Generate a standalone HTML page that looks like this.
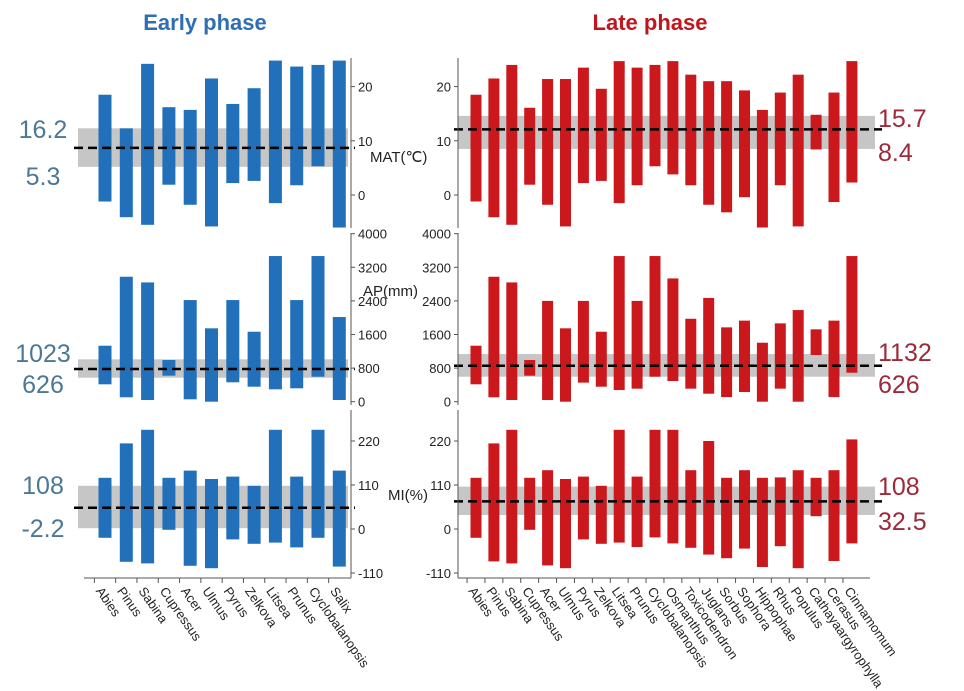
<!DOCTYPE html>
<html><head><meta charset="utf-8"><style>
body{margin:0;background:#fff}
svg{display:block;font-family:"Liberation Sans",Arial,sans-serif}
</style></head><body>
<svg id="chart" width="964" height="691" viewBox="0 0 964 691">
<text x="205" y="30" text-anchor="middle" font-size="22" font-weight="bold" fill="#2f6db5">Early phase</text>
<text x="650" y="30" text-anchor="middle" font-size="22" font-weight="bold" fill="#c0161c">Late phase</text>
<g id="g"></g>
</svg>
<script>
const earlyTaxa=["Abies","Pinus","Sabina","Cupressus","Acer","Ulmus","Pyrus","Zelkova","Litsea","Prunus","Cyclobalanopsis","Salix"];
const lateTaxa=["Abies","Pinus","Sabina","Cupressus","Acer","Ulmus","Pyrus","Zelkova","Litsea","Prunus","Cyclobalanopsis","Osmanthus","Toxicodendron","Juglans","Sorbus","Sophora","Hippophae","Rhus","Populus","Cathayaargyrophylla","Cerasus","Cinnamomum"];
const earlyMatHi=[18.5,12.3,24.2,16.2,15.7,21.5,16.8,19.7,24.8,23.7,24.0,24.8];
const earlyMatLo=[-1.2,-4.1,-5.5,1.9,-1.8,-5.8,2.2,2.6,-1.5,1.8,5.3,-6];
const earlyApHi=[1333,2975,2840,993,2420,1747,2420,1666,3468,2420,3468,2016];
const earlyApLo=[414,105,40,620,57,0,462,357,295,319,595,40];
const earlyMiHi=[128,214,248,128,146,125,131,108,248,131,248,146];
const earlyMiLo=[-22,-82,-86,-2,-92,-98,-26,-37,-34,-46,-22,-94];
const lateMatHi=[18.5,21.5,24,16.1,21.4,21.4,23.5,19.6,24.7,23.5,24,24.7,22.2,21,21,19.3,15.7,18.9,22.2,14.8,18.9,24.7];
const lateMatLo=[-1.2,-4.1,-5.5,1.9,-1.8,-5.8,2.2,2.6,-1.5,1.8,5.3,3.8,1.8,-1.8,-3.2,-0.4,-6,1.8,-5.8,8.4,-1.3,2.3];
const lateApHi=[1333,2975,2840,993,2400,1747,2400,1666,3468,2400,3468,2935,1975,2470,1770,1930,1404,1865,2182,1723,1930,3468];
const lateApLo=[414,105,40,620,40,0,454,357,278,310,595,492,310,190,110,230,0,310,0,1111,110,690];
const lateMiHi=[128,214,248,128,147,125,131,108,248,131,248,248,147,220,128,147,128,129,147,128,147,224];
const lateMiLo=[-22,-81,-86,-2,-91,-98,-26,-37,-34,-45,-21,-36,-47,-64,-73,-49,-95,-43,-98,32,-80,-36];
const earlyBands=[[5.2,8.7,12.3],[571,778,1009],[2,53,108]];
const lateBands=[[8.5,12.1,14.6],[595,857,1135],[35,69,106]];
const earlyLabels=[["16.2","5.3"],["1023","626"],["108","-2.2"]];
const lateLabels=[["15.7","8.4"],["1132","626"],["108","32.5"]];
const matTicks=[0,10,20], apTicks=[0,800,1600,2400,3200,4000], miTicks=[-110,0,110,220];

const NS="http://www.w3.org/2000/svg";
const G=document.getElementById('g');
function el(t,a,txt){const e=document.createElementNS(NS,t);for(const k in a)e.setAttribute(k,a[k]);if(txt!==undefined)e.textContent=txt;G.appendChild(e);return e;}
const yMat=v=>195-v*5.42, yAp=v=>401.7-v*0.042, yMi=v=>529-v*0.4;
const scales=[yMat,yAp,yMi];
const ticks=[matTicks,apTicks,miTicks];
const ranges=[[58,228],[233,405],[410,578]];

function panel(cfg){
  const {taxa,his,los,bands,labels,x0,step,bw,color,axisX,right,bandX0,bandX1,lblX,lblY,lblAnchor,lblColor,name}=cfg;
  const xs=i=>x0+i*step;
  for(let p=0;p<3;p++){
    const y=scales[p];const b=bands[p];
    let e=el('rect',{x:bandX0,y:y(b[2]),width:bandX1-bandX0,height:y(b[0])-y(b[2]),fill:'#c6c6c6'});
    
    
    for(let i=0;i<taxa.length;i++){
      const hi=his[p][i],lo=los[p][i];
      e=el('rect',{x:xs(i)-bw/2,y:y(hi),width:bw,height:y(lo)-y(hi),fill:color});
      
      
    }
    e=el('line',{x1:bandX0-4,x2:bandX1+7,y1:y(b[1]),y2:y(b[1]),stroke:'#000','stroke-width':2.5,'stroke-dasharray':'9,5'});
    
    
    const r=ranges[p];
    e=el('line',{x1:axisX,x2:axisX,y1:r[0],y2:r[1],stroke:'#555','stroke-width':1});
    
    
    for(const t of ticks[p]){
      const ty=y(t);
      el('line',{x1:axisX,x2:axisX+(right?4:-4),y1:ty,y2:ty,stroke:'#555'});
      e=el('text',{x:axisX+(right?7:-7),y:ty+5,'font-size':13,fill:'#222','text-anchor':right?'start':'end'},String(t));
      
      
    }
    for(let k=0;k<2;k++){
      e=el('text',{x:lblX,y:lblY[p][k],'font-size':25,fill:lblColor,'text-anchor':lblAnchor},labels[p][k]);
      
      
    }
  }
  const ax0=right?84:axisX, ax1=right?axisX:(axisX+412);
  let e=el('line',{x1:ax0,x2:ax1,y1:578,y2:578,stroke:'#555'});
  
  
  for(let i=0;i<taxa.length;i++){
    const tx=xs(i);
    el('line',{x1:tx-step/2,x2:tx-step/2,y1:578,y2:583,stroke:'#555'});
    e=el('text',{x:tx-step/2+1,y:591,'font-size':13,fill:'#222',transform:`rotate(55 ${tx-step/2+1} 591)`},taxa[i]);
    
    
  }
}
panel({taxa:earlyTaxa,his:[earlyMatHi,earlyApHi,earlyMiHi],los:[earlyMatLo,earlyApLo,earlyMiLo],bands:earlyBands,labels:earlyLabels,
  x0:105,step:21.3,bw:13,color:'#2170b9',axisX:351,right:true,bandX0:78,bandX1:348,lblX:43,lblAnchor:'middle',
  lblY:[[138,185],[362,393],[494,537]],lblColor:'#4c7895',name:'early'});
panel({taxa:lateTaxa,his:[lateMatHi,lateApHi,lateMiHi],los:[lateMatLo,lateApLo,lateMiLo],bands:lateBands,labels:lateLabels,
  x0:476,step:17.9,bw:11,color:'#cb181d',axisX:458,right:false,bandX0:458,bandX1:875,lblX:878,lblAnchor:'start',
  lblY:[[127,161],[361,393],[495,530]],lblColor:'#9c2a3a',name:'late'});
let a;
a=el('text',{x:370,y:162,'font-size':15,fill:'#222'},'MAT(℃)');


a=el('text',{x:363,y:296,'font-size':15,fill:'#222'},'AP(mm)');


a=el('text',{x:388,y:500,'font-size':15,fill:'#222'},'MI(%)');


</script>
</body></html>
